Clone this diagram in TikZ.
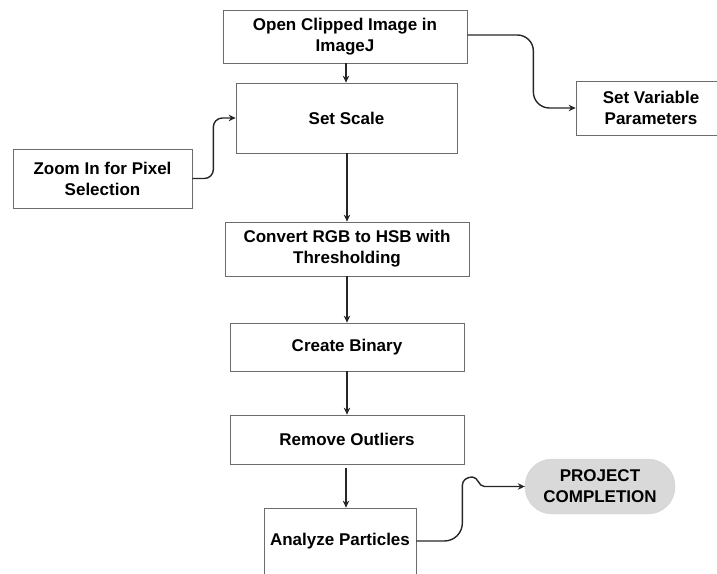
\documentclass[tikz,border=0pt]{standalone}
\usepackage{fontspec}
\setmainfont{Liberation Sans}
\usetikzlibrary{arrows.meta}

\begin{document}
\begin{tikzpicture}[x=1pt, y=1pt,
    box/.style={draw=gray!85!black, line width=0.7pt, fill=white, align=center,
        font=\fontsize{17}{21}\selectfont\bfseries, inner sep=0pt},
    pill/.style={fill=gray!30, draw=gray!35, rounded corners=27pt, align=center,
        font=\fontsize{17}{21}\selectfont\bfseries, inner sep=0pt},
    flow/.style={draw=black!85, line width=1.4pt, -{Stealth[length=7pt, width=6.5pt]}}]
        % Page frame
        \clip (0,0) rectangle (717,573);
        % Main steps
        \node[box, minimum width=244, minimum height=53] (open) at (345,536.5) {Open Clipped Image in\\ImageJ};
        \node[box, minimum width=221, minimum height=70] (scale) at (346.5,455) {Set Scale};
        \node[box, minimum width=244, minimum height=54] (convert) at (347,324) {Convert RGB to HSB with\\Thresholding};
        \node[box, minimum width=234, minimum height=48] (binary) at (347,226) {Create Binary};
        \node[box, minimum width=234, minimum height=49] (outliers) at (347,133.5) {Remove Outliers};
        \node[box, minimum width=152, minimum height=66] (analyze) at (340,32) {Analyze Particles};
        % Side steps
        \node[box, minimum width=179, minimum height=59] (zoom) at (102.5,394.5) {Zoom In for Pixel\\Selection};
        \node[box, minimum width=150, minimum height=54] (param) at (651,465) {Set Variable\\Parameters};
        % End
        \node[pill, minimum width=150, minimum height=55] (done) at (600,86.5) {PROJECT\\COMPLETION};

        % Connectors
        \draw[flow] (open.south -| 346,0) -- (scale.north -| 346,0);
        \draw[flow] (scale.south -| 347,0) -- (convert.north -| 347,0);
        \draw[flow] (convert.south -| 347,0) -- (binary.north -| 347,0);
        \draw[flow] (binary.south -| 347,0) -- (outliers.north -| 347,0);
        \draw[flow, shorten <=4pt] (outliers.south -| 346,0) -- (analyze.north -| 346,0);
        \draw[flow, rounded corners=9pt] (zoom.east) -- ++(21,0) |- (scale.west);
        \draw[flow, rounded corners=16pt] (open.east |- 0,538) -- ++(66,0) |- (param.west);
        \draw[flow] (analyze.east) -- ++(28,0) to[out=0,in=-90] ++(18,18) -- ++(0,38)
            to[out=90,in=180] ++(10,8) to[out=0,in=180] ++(12,-9.5) -- (done.west);
\end{tikzpicture}
\end{document}
